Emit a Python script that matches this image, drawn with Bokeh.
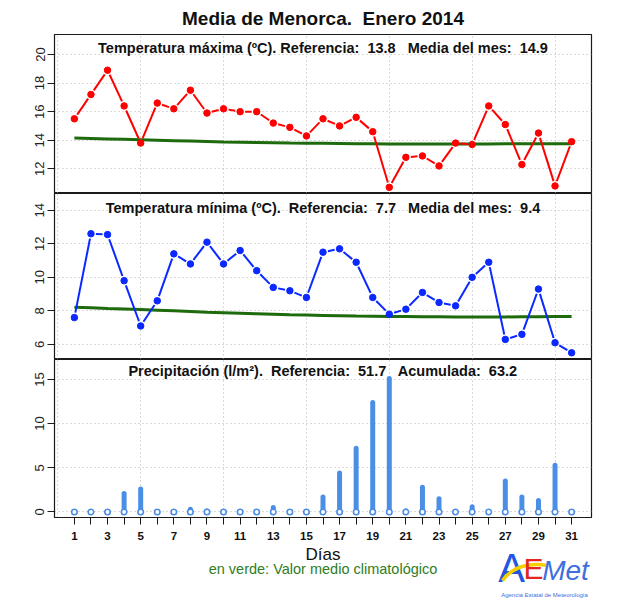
import math
import numpy as np
from bokeh.plotting import figure
from bokeh.layouts import column
from bokeh.models import Range1d, FixedTicker, Label
from bokeh.embed import file_html
from bokeh.resources import INLINE
from bokeh.core.properties import value

# ---------------- data ----------------
days = list(range(1, 32))
tmax = [15.5, 17.2, 18.9, 16.4, 13.8, 16.6, 16.2, 17.5, 15.9, 16.2,
        16.0, 16.0, 15.2, 14.9, 14.3, 15.5, 15.0, 15.6, 14.6, 10.7,
        12.8, 12.9, 12.2, 13.8, 13.7, 16.4, 15.1, 12.3, 14.5, 10.8, 13.9]
tmax_clim = [14.15, 14.12, 14.09, 14.06, 14.03, 14.00, 13.97, 13.94, 13.91, 13.88,
             13.86, 13.84, 13.82, 13.80, 13.79, 13.78, 13.77, 13.76, 13.75, 13.74,
             13.74, 13.74, 13.74, 13.74, 13.74, 13.74, 13.75, 13.75, 13.75, 13.76, 13.76]
tmin = [7.6, 12.6, 12.55, 9.8, 7.1, 8.6, 11.4, 10.8, 12.1, 10.8,
        11.6, 10.4, 9.4, 9.2, 8.8, 11.5, 11.7, 10.9, 8.8, 7.8,
        8.1, 9.1, 8.5, 8.3, 10.0, 10.9, 6.3, 6.6, 9.3, 6.1, 5.5]
tmin_clim = [8.22, 8.18, 8.14, 8.11, 8.08, 8.04, 8.00, 7.96, 7.92, 7.89,
             7.86, 7.83, 7.80, 7.77, 7.75, 7.73, 7.71, 7.69, 7.68, 7.67,
             7.66, 7.65, 7.65, 7.64, 7.64, 7.64, 7.64, 7.65, 7.65, 7.66, 7.66]
prec = [0, 0, 0, 2.1, 2.6, 0, 0, 0.3, 0.1, 0,
        0, 0, 0.5, 0, 0, 1.7, 4.4, 7.2, 12.4, 15.1,
        0.1, 2.8, 1.5, 0, 0.6, 0, 3.5, 1.7, 1.3, 5.3, 0]

NB = "\u00a0"
title_main = "Media de Menorca." + NB + " Enero 2014"
title_tmax = "Temperatura máxima (ºC). Referencia:" + NB + " 13.8" + NB + NB + " Media del mes:" + NB + " 14.9"
title_tmin = "Temperatura mínima (ºC)." + NB + " Referencia:" + NB + " 7.7" + NB + NB + " Media del mes:" + NB + " 9.4"
title_prec = "Precipitación (l/m²)." + NB + " Referencia:" + NB + " 51.7" + NB + NB + " Acumulada:" + NB + " 63.2"
tmax_ticks = [12, 14, 16, 18, 20]
tmin_ticks = [6, 8, 10, 12, 14]
prec_ticks = [0, 5, 10, 15]
grid_days = [0, 5, 10, 15, 20, 25, 30]
xlabel = "Días"
note = "en verde: Valor medio climatológico"
logo_sub = "Agencia Estatal de Meteorología"

# ---------------- style ----------------
FONT = "Liberation Sans"
LEFT, FW, RIGHT = 54, 537, 30
W = LEFT + FW + RIGHT
GRID_COL = "#b4b4b4"
GREEN = "#1d6b0c"

xr = Range1d(-0.2, 32.2)


def panel(y0, y1, fh, yticks, title, bottom=False, title_off=13):
    p = figure(frame_width=FW, frame_height=fh, x_range=xr, y_range=Range1d(y0, y1),
               output_backend="svg", toolbar_location=None,
               x_axis_location="below" if bottom else None,
               min_border_left=LEFT, min_border_right=RIGHT,
               min_border_top=0, min_border_bottom=28 if bottom else 0)
    p.outline_line_color = "#1a1a1a"
    p.outline_line_width = 1.2
    ya = p.yaxis[0]
    ya.ticker = FixedTicker(ticks=yticks)
    ya.major_label_orientation = "vertical"
    ya.major_tick_out = 7
    ya.major_tick_in = 0
    ya.minor_tick_line_color = None
    ya.axis_line_color = "#1a1a1a"
    ya.major_tick_line_color = "#1a1a1a"
    ya.major_label_standoff = 3
    ya.major_label_text_font = FONT
    ya.major_label_text_font_size = "13px"
    ya.major_label_text_color = "#222222"
    p.ygrid.ticker = FixedTicker(ticks=yticks)
    p.xgrid.ticker = FixedTicker(ticks=grid_days)
    for g in (p.xgrid, p.ygrid):
        g.grid_line_color = GRID_COL
        g.grid_line_dash = "1 3"
        g.grid_line_width = 1
    if bottom:
        xa = p.xaxis[0]
        xa.ticker = FixedTicker(ticks=days)
        xa.major_label_overrides = {d: "" for d in days if d % 2 == 0}
        xa.major_tick_out = 7
        xa.major_tick_in = 0
        xa.minor_tick_line_color = None
        xa.axis_line_color = "#1a1a1a"
        xa.major_tick_line_color = "#1a1a1a"
        xa.major_label_standoff = 7
        xa.major_label_text_font = FONT
        xa.major_label_text_font_size = "11.5px"
        xa.major_label_text_font_style = "bold"
        xa.major_label_text_color = "#111111"
    ppu = fh / (y1 - y0)
    p.add_layout(Label(x=(xr.start + xr.end) / 2, y=y1 - title_off / ppu, text=title,
                       text_align="center", text_baseline="middle", text_font=FONT,
                       text_font_size="14.5px", text_font_style="bold", text_color="#111111"))
    return p, ppu


def gapped(xs, ys, sx, sy, gap):
    a, b, c, d = [], [], [], []
    for i in range(len(xs) - 1):
        dx = (xs[i + 1] - xs[i]) * sx
        dy = (ys[i + 1] - ys[i]) * sy
        L = math.hypot(dx, dy)
        if L <= 2 * gap:
            continue
        f = gap / L
        a.append(xs[i] + (xs[i + 1] - xs[i]) * f)
        b.append(ys[i] + (ys[i + 1] - ys[i]) * f)
        c.append(xs[i + 1] - (xs[i + 1] - xs[i]) * f)
        d.append(ys[i + 1] - (ys[i + 1] - ys[i]) * f)
    return a, b, c, d


xppu = FW / (xr.end - xr.start)


def deco(h):
    # helper figure (title / footer area); its frame is aligned with the panels,
    # x coordinates are page pixels between LEFT and LEFT+FW
    f = figure(frame_width=FW, frame_height=h, x_range=Range1d(LEFT, LEFT + FW),
               y_range=Range1d(0, h), output_backend="svg", toolbar_location=None,
               min_border_left=LEFT, min_border_right=RIGHT, min_border_top=0,
               min_border_bottom=0, x_axis_location=None, y_axis_location=None)
    f.outline_line_color = None
    f.grid.visible = False
    return f


CX = LEFT + FW / 2

# ---------------- header ----------------
HH = 34
hdr = deco(HH)
hdr.text(x=[CX], y=[HH - 18], text=[title_main], text_align="center",
         text_baseline="middle", text_font=value(FONT), text_font_size="19px",
         text_font_style="bold", text_color="#111111")

# ---------------- max temperature ----------------
p1, ppu1 = panel(10.27, 21.4, 159, tmax_ticks, title_tmax)
p1.line(days, tmax_clim, line_color=GREEN, line_width=3)
a, b, c, d = gapped(days, tmax, xppu, ppu1, 5.0)
p1.segment(a, b, c, d, line_color="#ff0000", line_width=2)
p1.scatter(days, tmax, marker="circle", size=6.5, fill_color="#ff0000", line_color="#ff0000")

# ---------------- min temperature ----------------
p2, ppu2 = panel(5.1, 15.0, 166, tmin_ticks, title_tmin, title_off=14)
p2.line(days, tmin_clim, line_color=GREEN, line_width=3)
a, b, c, d = gapped(days, tmin, xppu, ppu2, 5.0)
p2.segment(a, b, c, d, line_color="#0a28ff", line_width=2)
p2.scatter(days, tmin, marker="circle", size=6.5, fill_color="#0a28ff", line_color="#0a28ff")

# ---------------- precipitation ----------------
p3, ppu3 = panel(-0.63, 17.26, 158, prec_ticks, title_prec, bottom=True, title_off=11)
pd_ = np.array(days)
pr = np.array(prec)
m = pr > 0
p3.segment(pd_[m], np.zeros(m.sum()), pd_[m], pr[m], line_color="#4a8ee6",
           line_width=5, line_cap="round")
p3.scatter(days, [0] * len(days), marker="circle", size=5.5, fill_color="white",
           line_color="#4a8ee6", line_width=1.6)

# ---------------- footer ----------------
FH = 65
ftr = deco(FH)
ftr.text(x=[CX], y=[FH - 9], text=[xlabel], text_align="center", text_baseline="middle",
         text_font=value(FONT), text_font_size="17px", text_color="#111111")
ftr.text(x=[CX], y=[FH - 23], text=[note], text_align="center", text_baseline="middle",
         text_font=value(FONT), text_font_size="14.5px", text_color="#2e7d1e")
# logo
ftr.text(x=[511], y=[FH - 22], text=["A"], text_align="center", text_baseline="middle",
         text_font=value(FONT), text_font_size="40px", text_color="#2156e0")
ftr.bezier(x0=[502], y0=[FH - 35], x1=[547], y1=[FH - 20], cx0=[513], cy0=[FH - 20],
           cx1=[531], cy1=[FH - 17], line_color="#f5cf00", line_width=3.5)
ftr.text(x=[533], y=[FH - 23], text=["E"], text_align="center", text_baseline="middle",
         text_font=value(FONT), text_font_size="30px", text_color="#e52520")
ftr.text(x=[565], y=[FH - 25], text=["Met"], text_align="center", text_baseline="middle",
         text_font=value(FONT), text_font_size="28px", text_font_style="italic",
         text_color="#3d6fe0")
ftr.text(x=[544], y=[FH - 49], text=[logo_sub], text_align="center", text_baseline="middle",
         text_font=value(FONT), text_font_size="6px", text_color="#3d6fe0")

layout = column(hdr, p1, p2, p3, ftr, spacing=0)
open("out.html", "w").write(file_html(layout, INLINE))
